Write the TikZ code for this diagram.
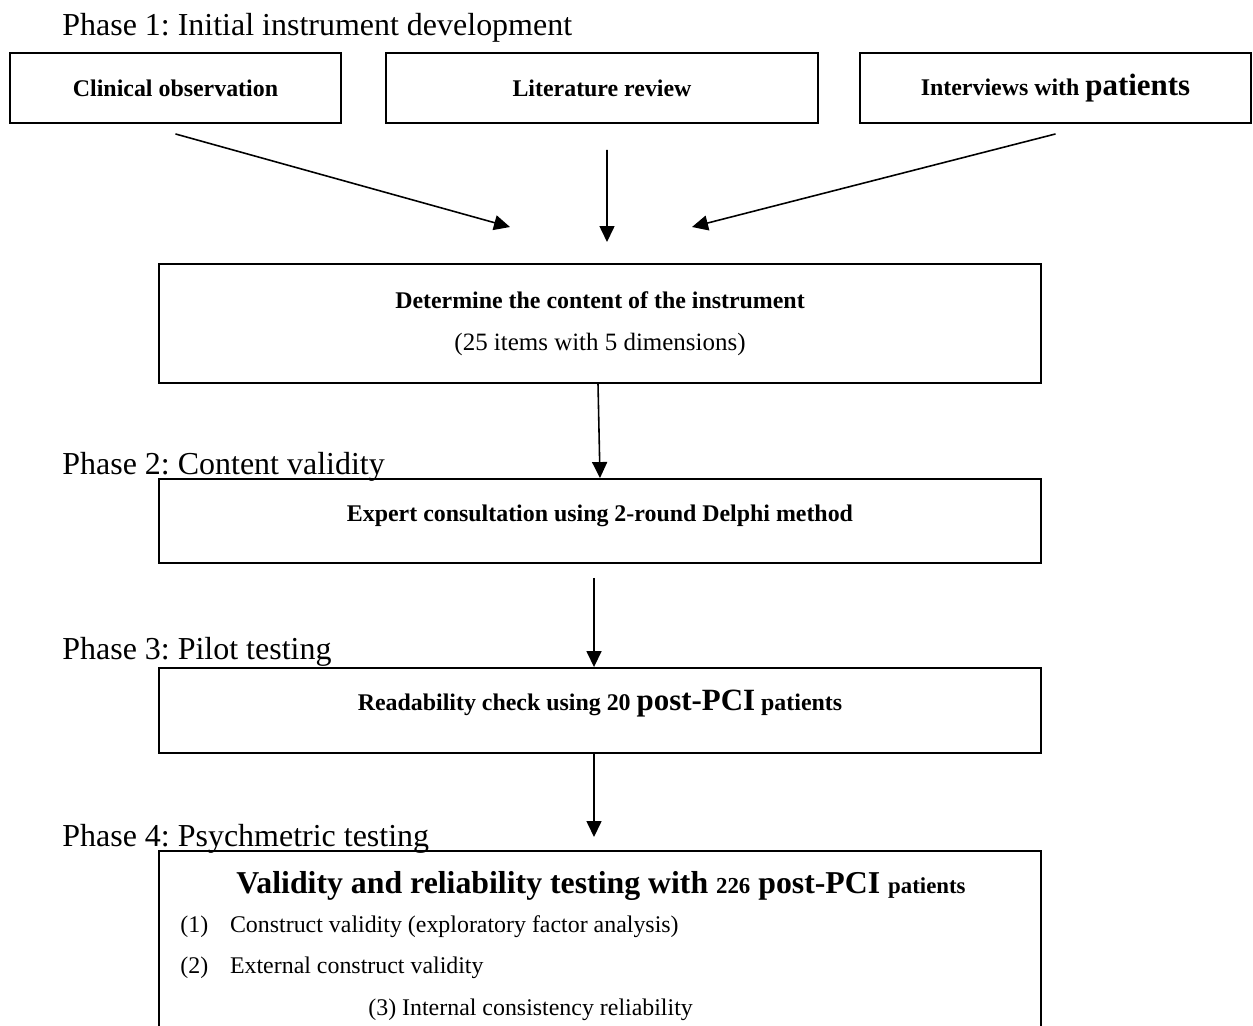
\documentclass[tikz,border=0pt]{standalone}
\usepackage{fontspec}
\setmainfont{Liberation Serif}
\usetikzlibrary{arrows.meta,positioning}
\frenchspacing

\begin{document}
\begin{tikzpicture}[x=0.02cm,y=-0.02cm,
  phase/.style={anchor=base west,inner sep=0pt,font=\fontsize{18.2}{21}\selectfont},
  box/.style={draw,line width=1.1pt,align=center,inner sep=0pt,
              font=\fontsize{13.6}{16}\selectfont\bfseries},
  item/.style={anchor=base west,inner sep=0pt,font=\fontsize{13.6}{16}\selectfont},
  arr/.style={-{Triangle[length=0.32cm,width=0.3cm]},line width=0.9pt},
]
\useasboundingbox (0,0) rectangle (1253,1025);
\node[phase] (p1) at (62,35) {Phase 1: Initial instrument development};
\node[box,minimum width=6.62cm,minimum height=1.4cm] (clin) at (175.5,88) {Clinical observation};
\node[box,minimum width=8.64cm,minimum height=1.4cm] (lit) at (602,88) {Literature review};
\node[box,minimum width=7.82cm,minimum height=1.4cm] (intv) at (1055.5,88)
  {Interviews with {\fontsize{17.6}{21}\selectfont patients}};
\coordinate (in1) at (510,227);
\coordinate (in2) at (607,242);
\coordinate (in3) at (692,227);
\draw[arr] ([yshift=-0.2cm]clin.south) -- (in1);
\draw[arr] ([xshift=0.1cm,yshift=-0.52cm]lit.south) -- (in2);
\draw[arr] ([yshift=-0.2cm]intv.south) -- (in3);
\node[box,minimum width=17.64cm,minimum height=2.38cm] (det) at (600,323.5)
  {Determine the content of the instrument\\[7.8pt]
   {\mdseries\fontsize{14.2}{16}\selectfont (25 items with 5 dimensions)}};
\node[phase] (p2) at (62,474) {Phase 2: Content validity};
\node[box,minimum width=17.64cm,minimum height=1.68cm,text height=8pt,text depth=8pt] (exp) at (600,521)
  {Expert consultation using 2-round Delphi method};
\node[phase] (p3) at (62,659) {Phase 3: Pilot testing};
\node[box,minimum width=17.64cm,minimum height=1.7cm,text height=8pt,text depth=8pt] (rdb) at (600,710.5)
  {Readability check using 20 {\fontsize{17.6}{21}\selectfont post-PCI} patients};
\node[phase] (p4) at (62,846) {Phase 4: Psychmetric testing};
\node[box,minimum width=17.64cm,minimum height=5cm,anchor=north] (val) at (600,850) {};
\node[anchor=base,inner sep=0pt,font=\fontsize{18.1}{21}\selectfont\bfseries] (valh) at (601,893)
  {Validity and reliability testing with {\fontsize{13}{16}\selectfont 226} post-PCI {\fontsize{13}{16}\selectfont patients}};
\node[item] (it1) at (180,932) {\makebox[28.3pt][l]{(1)}Construct validity (exploratory factor analysis)};
\node[item] (it2) at (180,973) {\makebox[28.3pt][l]{(2)}External construct validity};
\node[item] (it3) at (368,1015) {(3) Internal consistency reliability};
\draw[arr] ([xshift=-0.04cm]det.south) -- (exp.north);
\draw[arr] ([xshift=-0.12cm,yshift=-0.28cm]exp.south) -- ([xshift=-0.12cm]rdb.north);
\draw[arr] ([xshift=-0.12cm]rdb.south) -- ([xshift=-0.12cm,yshift=0.26cm]val.north);
\end{tikzpicture}
\end{document}
